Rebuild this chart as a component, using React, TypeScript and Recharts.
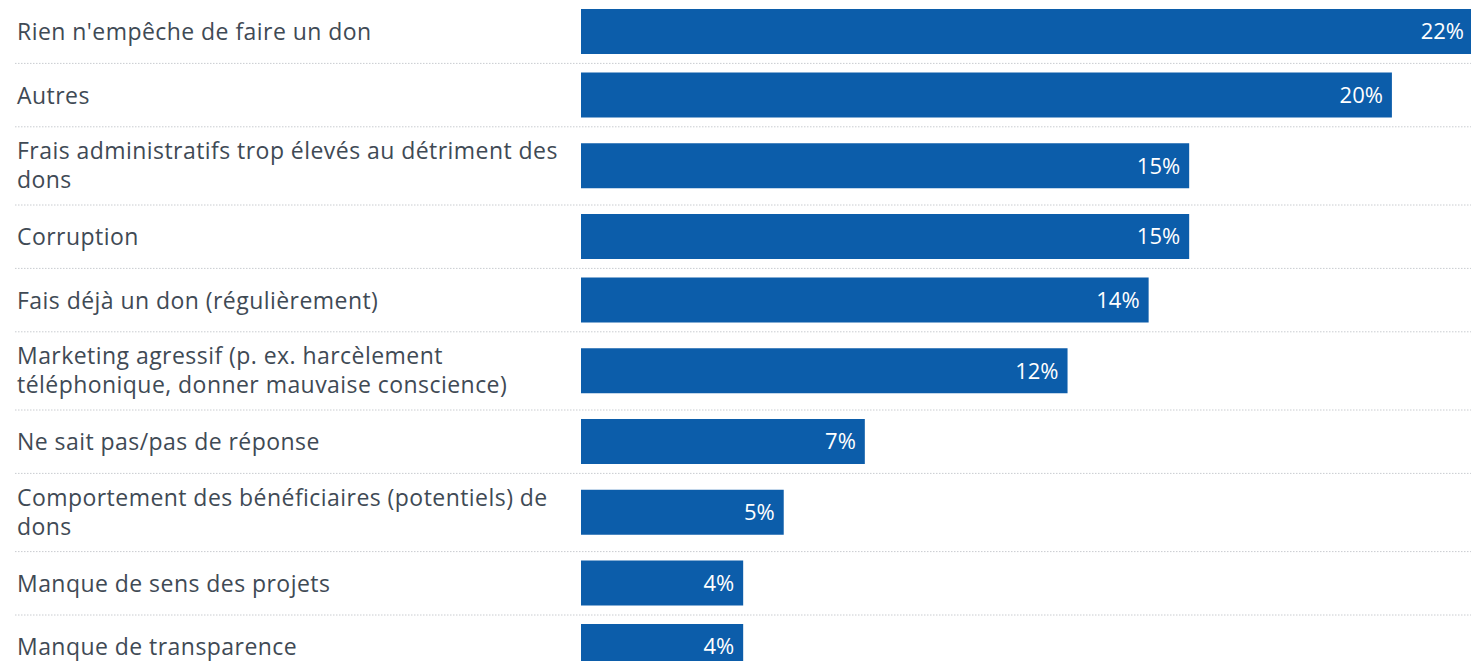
import React from 'react';
import { BarChart, Bar, XAxis, YAxis, LabelList } from 'recharts';

// ---- data ----
const categoryLabels = [
  "Rien n'empêche de faire un don",
  'Autres',
  'Frais administratifs trop élevés au détriment des\ndons',
  'Corruption',
  'Fais déjà un don (régulièrement)',
  'Marketing agressif (p. ex. harcèlement\ntéléphonique, donner mauvaise conscience)',
  'Ne sait pas/pas de réponse',
  'Comportement des bénéficiaires (potentiels) de\ndons',
  'Manque de sens des projets',
  'Manque de transparence',
];
const shares = [22, 20, 15, 15, 14, 12, 7, 5, 4, 4];
const shareDomain = [0, 22];

// ---- layout ----
const WIDTH = 1473;
const HEIGHT = 680;
const LEFT = 581;
const SINGLE_ROW = 63.4;
const EXTRA_LINE = 14.8;
const LINE_GAP = 29;
const FONT = "'Open Sans', 'Noto Sans', sans-serif";
const TEXT_COLOR = '#3f4a55';
const BAR_COLOR = '#0c5daa';

const lineCounts = categoryLabels.map((l) => l.split('\n').length);
const rowHeights = lineCounts.map((n) => SINGLE_ROW + EXTRA_LINE * (n - 1));
const rowTops = rowHeights.map((_, i) => rowHeights.slice(0, i).reduce((a, b) => a + b, 0));
const rowCenters = rowTops.map((t, i) => t + rowHeights[i] / 2);

const data = categoryLabels.map((label, i) => ({
  label,
  share: shares[i],
  pos: rowCenters[i],
}));

const CategoryTick = (props: any) => {
  const { y, index } = props;
  const lines = categoryLabels[index].split('\n');
  const n = lines.length;
  const sepY = y + rowHeights[index] / 2;
  return (
    <g>
      <text
        x={17}
        y={y + 8.5 - 15 * (n - 1)}
        fill={TEXT_COLOR}
        fontSize={23}
        letterSpacing={0.45}
        fontFamily={FONT}
        textAnchor="start"
      >
        {lines.map((l, k) => (
          <tspan key={k} x={17} dy={k === 0 ? 0 : LINE_GAP}>
            {l}
          </tspan>
        ))}
      </text>
      <line
        x1={15}
        x2={WIDTH}
        y1={sepY}
        y2={sepY}
        stroke="#c9ccd0"
        strokeWidth={1}
        strokeDasharray="1.5 1.5"
      />
    </g>
  );
};

export default function App() {
  return (
    <div style={{ position: 'absolute', top: 0, left: 0, background: '#fff', fontFamily: FONT }}>
      <BarChart
        width={WIDTH}
        height={HEIGHT}
        data={data}
        layout="vertical"
        margin={{ top: 0, right: 0, bottom: 0, left: 0 }}
      >
        <XAxis type="number" domain={shareDomain} hide allowDataOverflow />
        <YAxis
          type="number"
          dataKey="pos"
          domain={[0, HEIGHT]}
          width={LEFT}
          ticks={rowCenters}
          interval={0}
          tick={<CategoryTick />}
          axisLine={false}
          tickLine={false}
          allowDataOverflow
        />
        <Bar dataKey="share" fill={BAR_COLOR} barSize={45} isAnimationActive={false}>
          <LabelList
            dataKey="share"
            position="insideRight"
            offset={9}
            fill="#ffffff"
            fontSize={22}
            fontFamily={FONT}
            formatter={(v: any) => `${v}%`}
          />
        </Bar>
      </BarChart>
    </div>
  );
}
